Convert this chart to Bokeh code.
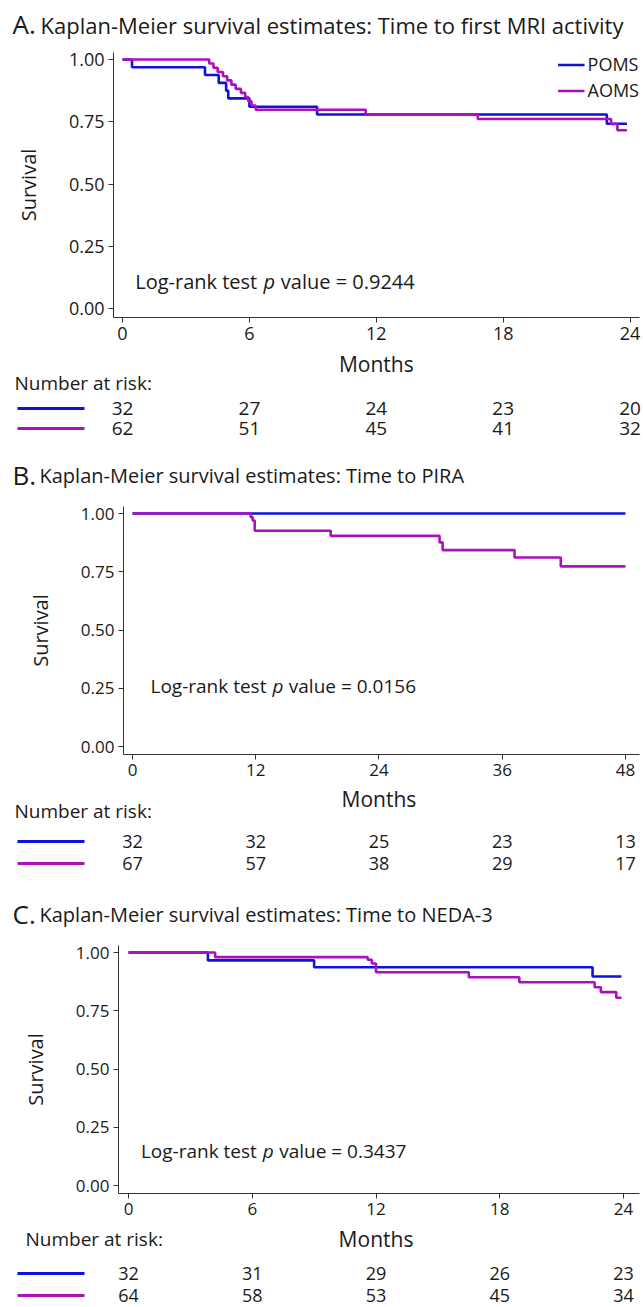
from bokeh.plotting import figure
from bokeh.models import Range1d, Legend, LegendItem, FixedTicker, PrintfTickFormatter
from bokeh.layouts import column
from bokeh.embed import file_html
from bokeh.resources import INLINE
from bokeh.core.properties import value

FONT = "Open Sans"
BLUE = "#0e12dc"
MAG = "#ac10be"
TXT = "#1a1a1a"
AX = "#333333"
W = 643
ORG = 0          # page origin of the layout (observed: content starts at 0,0)
RIGHT = 639      # right end of the plot frames

# ---------------- data ----------------
groups = ["POMS", "AOMS"]

# Panel A: time to first MRI activity
a_title = "Kaplan-Meier survival estimates: Time to first MRI activity"
a_ticks = [0, 6, 12, 18, 24]
a_poms_t = [0, 0.45, 3.9, 4.55, 4.9, 5.0, 6.0, 9.2, 22.9, 23.85]
a_poms_s = [1.0, 0.969, 0.938, 0.906, 0.875, 0.844, 0.81, 0.779, 0.742, 0.742]
a_aoms_t = [0, 4.1, 4.3, 4.5, 4.75, 4.95, 5.15, 5.35, 5.6, 5.8, 5.95, 6.1, 6.3,
            11.5, 16.8, 23.1, 23.4, 23.85]
a_aoms_s = [1.0, 0.984, 0.967, 0.950, 0.933, 0.916, 0.899, 0.882, 0.866, 0.849,
            0.832, 0.815, 0.798, 0.779, 0.761, 0.741, 0.716, 0.716]
a_risk_poms = [32, 27, 24, 23, 20]
a_risk_aoms = [62, 51, 45, 41, 32]
a_pval = "0.9244"

# Panel B: time to PIRA
b_title = "Kaplan-Meier survival estimates: Time to PIRA"
b_ticks = [0, 12, 24, 36, 48]
b_poms_t = [0, 48]
b_poms_s = [1.0, 1.0]
b_aoms_t = [0, 11.5, 11.7, 11.9, 19.3, 29.9, 30.2, 37.2, 41.7, 48]
b_aoms_s = [1.0, 0.985, 0.970, 0.926, 0.904, 0.876, 0.843, 0.811, 0.773, 0.773]
b_risk_poms = [32, 32, 25, 23, 13]
b_risk_aoms = [67, 57, 38, 29, 17]
b_pval = "0.0156"

# Panel C: time to NEDA-3
c_title = "Kaplan-Meier survival estimates: Time to NEDA-3"
c_ticks = [0, 6, 12, 18, 24]
c_poms_t = [0, 3.85, 9.0, 22.5, 23.9]
c_poms_s = [1.0, 0.966, 0.937, 0.897, 0.897]
c_aoms_t = [0, 4.2, 11.6, 11.8, 12.0, 16.5, 18.95, 22.6, 22.9, 23.65, 23.9]
c_aoms_s = [1.0, 0.980, 0.969, 0.953, 0.915, 0.894, 0.872, 0.851, 0.830, 0.806, 0.806]
c_risk_poms = [32, 31, 29, 26, 23]
c_risk_aoms = [64, 58, 53, 45, 34]
c_pval = "0.3437"


def unalign(fig):
    try:
        fig.frame_align = False
    except Exception:
        pass


def blank_fig(h, xr):
    q = figure(width=W, height=h, x_range=Range1d(*xr), y_range=Range1d(h, 0),
               toolbar_location=None, output_backend="svg", title=None,
               min_border=0, x_axis_location=None, y_axis_location=None)
    q.outline_line_color = None
    q.grid.visible = False
    q.background_fill_color = "white"
    q.border_fill_color = "white"
    unalign(q)
    return q


def make_panel(letter, title, ticks, curves, risks, pval, g, legend=False):
    def tpx(xpage):
        return (xpage - g["zero"]) / g["pxm"]
    rxr = (tpx(ORG), tpx(ORG + W))
    tcommon = dict(text_baseline="middle", text_font=value(FONT), text_color=TXT)

    # ---- title strip ----
    th = g["mt"] - g["top"]
    tf = blank_fig(th, rxr)
    tf.text(x=[tpx(g["tx"])], y=[g["ty"] - g["top"]], text=[letter + "."],
            text_align="left", text_font_size="26px", **tcommon)
    tf.text(x=[tpx(g["tx2"])], y=[g["ty"] - g["top"] + 1], text=[title],
            text_align="left", text_font_size=g["title_fs"], **tcommon)

    # ---- main plot ----
    u = g["y0"] - g["y1"]
    ys = -(g["fb"] - g["y0"]) / u
    ye = 1 + (g["y1"] - g["ft"]) / u
    xs = tpx(g["ax"])
    xe = tpx(RIGHT)
    bottom = 32
    h = g["fb"] + bottom - g["mt"]

    p = figure(width=W, height=h, x_range=Range1d(xs, xe), y_range=Range1d(ys, ye),
               toolbar_location=None, output_backend="svg", title=None,
               min_border_left=g["ax"] - ORG, min_border_right=ORG + W - RIGHT,
               min_border_top=g["ft"] - g["mt"], min_border_bottom=bottom)
    unalign(p)
    p.outline_line_color = None
    p.grid.visible = False
    p.background_fill_color = "white"
    p.border_fill_color = "white"

    p.xaxis.ticker = FixedTicker(ticks=ticks)
    p.yaxis.ticker = FixedTicker(ticks=[0, 0.25, 0.5, 0.75, 1.0])
    p.yaxis.formatter = PrintfTickFormatter(format="%.2f")
    for ax in p.axis:
        ax.major_tick_in = 0
        ax.major_tick_out = 5
        ax.minor_tick_line_color = None
        ax.axis_line_color = AX
        ax.major_tick_line_color = AX
        ax.major_label_text_font = FONT
        ax.major_label_text_font_size = g["tick_fs"]
        ax.major_label_text_color = TXT
        ax.major_label_standoff = 4
    p.yaxis.axis_label = "Survival"
    p.yaxis.axis_label_text_font = FONT
    p.yaxis.axis_label_text_font_style = "normal"
    p.yaxis.axis_label_text_font_size = "20px"
    p.yaxis.axis_label_text_color = TXT
    p.yaxis.axis_label_standoff = g["ylab_standoff"]

    rends = []
    for (t, s), col in zip(curves, [BLUE, MAG]):
        r = p.step(t, s, mode="after", line_width=2.6, line_color=col)
        rends.append(r)

    if legend:
        lg = Legend(items=[LegendItem(label=n, renderers=[r]) for n, r in zip(groups, rends)],
                    location="top_right", margin=0, padding=0, spacing=2,
                    label_height=19, glyph_height=19, glyph_width=27, label_standoff=3,
                    border_line_color=None, background_fill_alpha=0,
                    label_text_font=FONT, label_text_font_size="18px",
                    label_text_color=TXT)
        p.add_layout(lg)

    # log-rank annotation
    lx, ly = g["lr"]
    f = g["lr_fs"]
    common = dict(text_baseline="middle", text_align="left", text_font=value(FONT),
                  text_font_size="%dpx" % f, text_color=TXT)
    p.text(x=[lx], y=[ly], text=["Log-rank test"], **common)
    p.text(x=[lx], y=[ly], text=["p"], x_offset=6.42 * f, text_font_style="italic", **common)
    p.text(x=[lx], y=[ly], text=["value = " + pval], x_offset=7.28 * f, **common)

    # ---- number at risk table ----
    rt = g["fb"] + bottom
    rh = g["next"] - rt
    q = blank_fig(rh, rxr)
    q.text(x=[(ticks[0] + ticks[-1]) / 2], y=[g["months"] - rt], text=["Months"],
           text_align="center", text_font_size="21px", **tcommon)
    q.text(x=[tpx(g["narx"])], y=[g["nar"] - rt], text=["Number at risk:"],
           text_align="left", text_font_size="19px", **tcommon)
    for vals, col, yy in zip(risks, [BLUE, MAG], g["rows"]):
        q.segment(x0=[tpx(17)], x1=[tpx(84)], y0=[yy - rt], y1=[yy - rt],
                  line_color=col, line_width=3)
        q.text(x=ticks, y=[yy - rt] * len(ticks), text=[str(v) for v in vals],
               text_align="center", text_font_size=g["risk_fs"], **tcommon)
    return [tf, p, q]


gA = dict(top=0, mt=40, ft=52, y1=59, y0=308, fb=317, ax=113, zero=122, pxm=21.15,
          title_fs="22px", tick_fs="18px", risk_fs="19px", lr_fs=20,
          ylab_standoff=24, lr=(0.6, 0.11), tx=12, tx2=40, ty=23,
          months=363, nar=382, narx=14, rows=[408, 428], next=450)
gB = dict(top=450, mt=495, ft=506, y1=513, y0=746, fb=754, ax=123, zero=132, pxm=10.27,
          title_fs="20px", tick_fs="17px", risk_fs="18px", lr_fs=19,
          ylab_standoff=24, lr=(1.75, 0.26), tx=12, tx2=39, ty=474,
          months=798, nar=810, narx=14, rows=[841, 863], next=878)
gC = dict(top=878, mt=935, ft=945, y1=952, y0=1185, fb=1193, ax=118, zero=128, pxm=20.625,
          title_fs="20px", tick_fs="17px", risk_fs="18px", lr_fs=19,
          ylab_standoff=24, lr=(0.6, 0.15), tx=12, tx2=39, ty=913,
          months=1238, nar=1238, narx=25, rows=[1273, 1295], next=1307)

figs = []
figs += make_panel("A", a_title, a_ticks, [(a_poms_t, a_poms_s), (a_aoms_t, a_aoms_s)],
                   [a_risk_poms, a_risk_aoms], a_pval, gA, legend=True)
figs += make_panel("B", b_title, b_ticks, [(b_poms_t, b_poms_s), (b_aoms_t, b_aoms_s)],
                   [b_risk_poms, b_risk_aoms], b_pval, gB)
figs += make_panel("C", c_title, c_ticks, [(c_poms_t, c_poms_s), (c_aoms_t, c_aoms_s)],
                   [c_risk_poms, c_risk_aoms], c_pval, gC)

layout = column(*figs, spacing=0)
open("out.html", "w").write(file_html(layout, INLINE))
